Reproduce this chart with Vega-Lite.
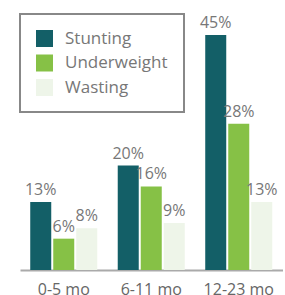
{
  "$schema": "https://vega.github.io/schema/vega-lite/v6.json",
  "autosize": {"type": "none"},
  "padding": {"left": 20, "top": 35, "right": 3, "bottom": 25},
  "width": 262.5,
  "height": 235,
  "background": "white",
  "config": {"view": {"stroke": null}, "font": "Open Sans"},
  "data": {"values": [
    {"age": "0-5 mo", "measure": "Stunting", "value": 0.13},
    {"age": "0-5 mo", "measure": "Underweight", "value": 0.06},
    {"age": "0-5 mo", "measure": "Wasting", "value": 0.08},
    {"age": "6-11 mo", "measure": "Stunting", "value": 0.20},
    {"age": "6-11 mo", "measure": "Underweight", "value": 0.16},
    {"age": "6-11 mo", "measure": "Wasting", "value": 0.09},
    {"age": "12-23 mo", "measure": "Stunting", "value": 0.45},
    {"age": "12-23 mo", "measure": "Underweight", "value": 0.28},
    {"age": "12-23 mo", "measure": "Wasting", "value": 0.13}
  ]},
  "encoding": {
    "x": {"field": "age", "type": "nominal", "sort": ["0-5 mo", "6-11 mo", "12-23 mo"],
      "scale": {"paddingInner": 0.234, "paddingOuter": 0.117},
      "axis": {"title": null, "labelAngle": 0, "ticks": false, "domainColor": "#aaaaaa", "domainWidth": 2,
        "labelFontSize": 16, "labelColor": "#666666", "labelPadding": 11, "labelFont": "Open Sans"}},
    "xOffset": {"field": "measure", "type": "nominal", "scale": {"paddingInner": 0.087, "paddingOuter": 0}},
    "y": {"field": "value", "type": "quantitative", "scale": {"domain": [0, 0.45], "nice": false}, "axis": null}
  },
  "layer": [
    {
      "mark": {"type": "bar"},
      "encoding": {
        "color": {"field": "measure", "type": "nominal",
          "scale": {"domain": ["Stunting", "Underweight", "Wasting"], "range": ["#135F67", "#86C146", "#EEF5E9"]},
          "legend": {"title": null, "orient": "none", "legendX": 0, "legendY": -21,
            "direction": "vertical", "symbolType": "square", "symbolSize": 289, "symbolStrokeWidth": 0,
            "symbolOpacity": 1,
            "labelFontSize": 17, "labelColor": "#777777", "labelFont": "Open Sans", "labelOffset": 12,
            "rowPadding": 6.5, "padding": 16, "strokeColor": "#888888",
            "fillColor": "white",
            "encode": {"legend": {"update": {"strokeWidth": {"value": 2}}}}}}
      }
    },
    {
      "mark": {"type": "text", "dy": -4, "baseline": "bottom", "fontSize": 16, "color": "#777777", "font": "Open Sans"},
      "encoding": {"text": {"field": "value", "type": "quantitative", "format": ".0%"}}
    }
  ]
}
